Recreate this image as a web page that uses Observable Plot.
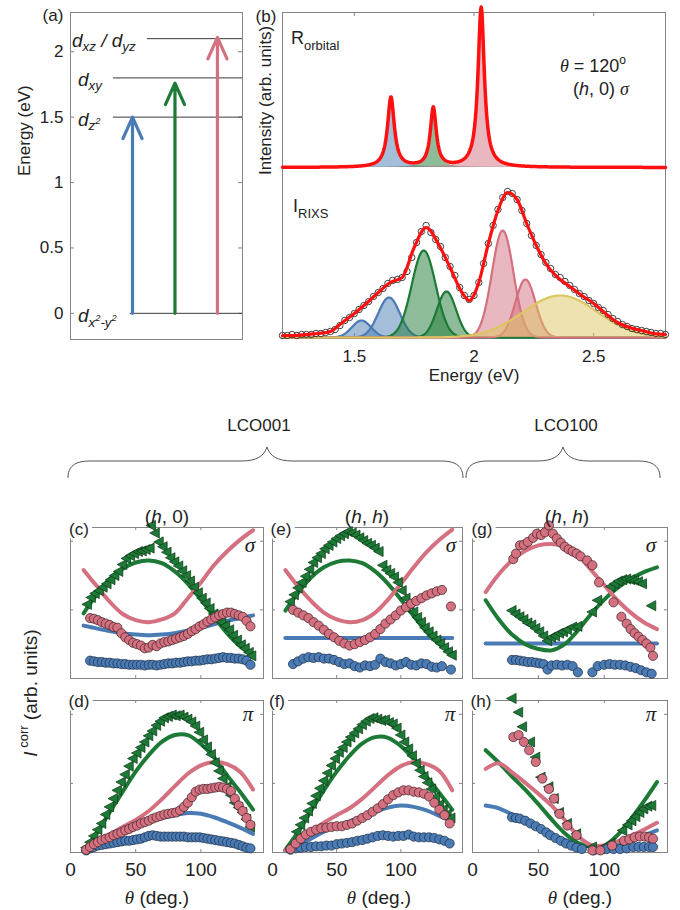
<!DOCTYPE html>
<html>
<head>
<meta charset="utf-8">
<script src="https://cdn.jsdelivr.net/npm/d3@7"></script>
<script src="https://cdn.jsdelivr.net/npm/@observablehq/plot@0.6"></script>
<style>
  body { margin: 0; background: #fff; }
  #fig { position: relative; width: 680px; height: 910px; overflow: hidden; background: #fff;
         font-family: "Liberation Sans", Arial, Helvetica, sans-serif; color: #222; }
  .lbl { position: absolute; white-space: nowrap; line-height: 1; transform: translate(-50%, -50%); }
  .lbl.left { transform: translate(0, -50%); }
  .tag { background: #fff; padding: 1px 3px; }
  .gr { font-family: "Liberation Serif", "DejaVu Serif", serif; font-style: italic; }
  .it { font-style: italic; }
  .lbl sub, .lbl sup { line-height: 0; font-size: 70%; }
</style>
</head>
<body>
<div id="fig"></div>
<script>
// ---------------- (a) crystal-field levels ----------------
const levelNames = ["d<sub>x<sup>2</sup>-y<sup>2</sup></sub>", "d<sub>z<sup>2</sup></sub>", "d<sub>xy</sub>", "d<sub>xz</sub> / d<sub>yz</sub>"];
const levelEnergy = [0, 1.5, 1.8, 2.1];
const transitionEnergy = [1.5, 1.76, 2.11];
const energyTicks = [0, 0.5, 1, 1.5, 2];

// ---------------- (b) spectra ----------------
// orbital response: peak centre (eV), height, half width
const orbitalCenter = [1.653, 1.83, 2.03];
const orbitalHeight = [0.70, 0.59, 1.60];
const orbitalWidth = [0.017, 0.015, 0.016];
// RIXS fit components: centre (eV), height, sigma
const compName = ["dz2 a", "dz2 b", "dxy a", "dxy b", "dxz a", "dxz b", "background"];
const compCenter = [1.53, 1.645, 1.79, 1.885, 2.12, 2.215, 2.36];
const compHeight = [0.17, 0.40, 0.87, 0.46, 1.07, 0.58, 0.42];
const compSigma = [0.040, 0.045, 0.050, 0.040, 0.045, 0.042, 0.155];
// measured RIXS spectrum
const spectrumE = [1.20,1.22,1.24,1.26,1.28,1.30,1.32,1.34,1.36,1.38,1.40,1.42,1.44,1.46,1.48,1.50,1.52,1.54,1.56,1.58,
  1.60,1.62,1.64,1.66,1.68,1.70,1.72,1.74,1.76,1.78,1.80,1.82,1.84,1.86,1.88,1.90,1.92,1.94,1.96,1.98,
  2.00,2.02,2.04,2.06,2.08,2.10,2.12,2.14,2.16,2.18,2.20,2.22,2.24,2.26,2.28,2.30,2.32,2.34,2.36,2.38,
  2.40,2.42,2.44,2.46,2.48,2.50,2.52,2.54,2.56,2.58,2.60,2.62,2.64,2.66,2.68,2.70,2.72,2.74,2.76,2.78,2.80];
const spectrumI = [0.02,0.02,0.03,0.02,0.03,0.03,0.03,0.04,0.04,0.05,0.06,0.08,0.12,0.17,0.20,0.24,0.28,0.32,0.36,0.41,
  0.45,0.49,0.54,0.57,0.58,0.60,0.66,0.80,0.95,1.06,1.12,1.05,0.98,0.91,0.80,0.71,0.62,0.50,0.42,0.38,
  0.42,0.55,0.74,0.94,1.12,1.28,1.40,1.46,1.44,1.38,1.27,1.14,1.02,0.92,0.83,0.75,0.69,0.63,0.60,0.56,
  0.52,0.48,0.44,0.41,0.37,0.34,0.30,0.27,0.23,0.19,0.16,0.13,0.11,0.09,0.08,0.07,0.06,0.05,0.04,0.04,0.03];
// total fit
const fitE = [1.20,1.25,1.30,1.35,1.40,1.45,1.50,1.55,1.60,1.65,1.70,1.75,1.80,1.85,1.90,1.95,1.98,
  2.02,2.06,2.10,2.14,2.18,2.22,2.26,2.30,2.35,2.40,2.45,2.50,2.55,2.60,2.65,2.70,2.75,2.80];
const fitI = [0.02,0.02,0.03,0.04,0.06,0.15,0.24,0.34,0.45,0.55,0.60,0.90,1.10,0.94,0.70,0.45,0.37,
  0.55,0.94,1.27,1.45,1.38,1.14,0.92,0.74,0.60,0.51,0.42,0.34,0.24,0.15,0.10,0.07,0.04,0.03];
const energyAxisTicks = [1.5, 2, 2.5];

// ---------------- (c)-(h) angular dependence ----------------
const modelTheta = [10,20,30,40,50,60,70,80,90,100,110,120,130,140];
const thetaTicks = [0, 50, 100];

// (c) LCO001 (h,0) sigma
const cLineGreen = [0.95,1.22,1.45,1.60,1.69,1.72,1.68,1.56,1.38,1.15,0.90,0.66,0.47,0.34];
const cLinePink  = [1.58,1.35,1.12,0.94,0.85,0.82,0.86,0.95,1.17,1.40,1.65,1.85,2.02,2.16];
const cLineBlue  = [0.77,0.73,0.69,0.66,0.64,0.63,0.64,0.66,0.70,0.74,0.79,0.84,0.88,0.92];
const cTheta = [15,18,21,24,27,30,33,36,39,42,45,48,51,54,57,60,63,66,69,72,75,78,81,84,87,90,93,96,99,102,105,108,111,114,117,120,123,126,129,132,135,138];
const cPink = [0.88,0.87,0.85,0.82,0.80,0.78,0.75,0.74,0.66,0.60,0.56,0.52,0.50,0.48,0.44,0.45,0.49,0.47,0.51,0.53,0.54,0.56,0.58,0.60,0.62,0.65,0.69,0.72,0.76,0.79,0.83,0.86,0.89,0.92,0.94,0.96,0.96,0.94,0.92,0.90,0.84,0.76];
const cBlue = [0.26,0.25,0.24,0.24,0.23,0.23,0.22,0.22,0.21,0.21,0.20,0.20,0.20,0.20,0.19,0.20,0.20,0.19,0.20,0.21,0.22,0.22,0.23,0.23,0.24,0.25,0.25,0.26,0.26,0.27,0.28,0.28,0.29,0.30,0.31,0.30,0.30,0.29,0.29,0.28,0.26,0.20];
const cGreenTheta = [13,16,19,22,25,28,31,34,37,40,43,46,49,52,55,58,61,62,65,68,71,74,77,80,83,86,89,92,95,98,101,104,107,110,113,116,119,122,125,128,131,134,137,139];
const cGreen = [1.08,1.18,1.24,1.28,1.33,1.38,1.44,1.50,1.56,1.66,1.75,1.79,1.82,1.85,1.86,1.88,1.90,2.23,2.12,1.99,1.92,1.84,1.76,1.70,1.64,1.57,1.50,1.42,1.33,1.25,1.17,1.10,1.02,0.94,0.88,0.82,0.77,0.71,0.63,0.56,0.49,0.44,0.38,0.33];

// (d) LCO001 (h,0) pi
const dLineGreen = [0.02,0.28,0.58,0.88,1.17,1.41,1.60,1.70,1.70,1.57,1.38,1.12,0.88,0.62];
const dLinePink  = [0.02,0.14,0.26,0.37,0.47,0.60,0.77,0.96,1.14,1.26,1.31,1.28,1.17,0.91];
const dLineBlue  = [0.02,0.12,0.22,0.31,0.38,0.45,0.50,0.54,0.57,0.56,0.51,0.44,0.36,0.27];
const dTheta = [12,15,18,21,24,27,30,33,36,39,42,45,48,51,54,57,60,63,66,69,72,75,78,81,84,87,90,93,96,99,102,105,108,111,114,117,120,123,126,129,132,135,138];
const dPink = [0.04,0.08,0.12,0.15,0.18,0.20,0.22,0.25,0.27,0.29,0.32,0.34,0.37,0.39,0.42,0.44,0.46,0.49,0.51,0.53,0.55,0.56,0.57,0.58,0.61,0.66,0.72,0.80,0.88,0.91,0.92,0.92,0.93,0.94,0.95,0.94,0.92,0.89,0.78,0.68,0.60,0.50,0.40];
const dBlue = [0.03,0.06,0.08,0.10,0.11,0.12,0.13,0.14,0.15,0.16,0.17,0.17,0.18,0.19,0.20,0.22,0.24,0.25,0.24,0.23,0.23,0.23,0.23,0.23,0.23,0.23,0.22,0.22,0.22,0.22,0.21,0.20,0.19,0.18,0.17,0.16,0.15,0.14,0.13,0.11,0.09,0.07,0.06];
const dGreen = [0.07,0.15,0.24,0.33,0.42,0.55,0.66,0.78,0.90,1.02,1.13,1.25,1.36,1.44,1.52,1.60,1.69,1.76,1.84,1.90,1.95,1.97,1.99,1.98,1.99,1.96,1.93,1.89,1.83,1.74,1.63,1.53,1.42,1.30,1.18,1.07,0.95,0.83,0.72,0.65,0.58,0.48,0.37];

// (e) LCO001 (h,h) sigma
const eLineGreen = [0.99,1.25,1.47,1.62,1.70,1.72,1.68,1.56,1.38,1.15,0.91,0.68,0.50,0.38];
const eLinePink  = [1.58,1.34,1.13,0.96,0.86,0.82,0.85,0.96,1.15,1.38,1.62,1.84,2.02,2.17];
const eLineBlue  = [0.59,0.59,0.59,0.59,0.59,0.59,0.59,0.59,0.59,0.59,0.59,0.59,0.59,0.59];
const eTheta = [16,20,24,28,32,36,40,44,48,52,56,60,64,68,72,76,80,84,88,92,96,100,104,108,112,116,120,124,128,132,139];
const ePink = [1.00,0.96,0.92,0.88,0.82,0.77,0.71,0.65,0.60,0.55,0.51,0.48,0.50,0.53,0.56,0.60,0.65,0.72,0.80,0.86,0.92,0.99,1.04,1.09,1.13,1.17,1.21,1.24,1.27,1.29,1.05];
const eBlue = [0.21,0.25,0.29,0.31,0.30,0.31,0.29,0.29,0.27,0.24,0.21,0.22,0.18,0.16,0.19,0.18,0.20,0.29,0.24,0.22,0.19,0.21,0.24,0.20,0.19,0.22,0.21,0.17,0.16,0.18,0.13];
const eGreenTheta = [14,17,20,23,26,29,32,35,38,41,44,47,50,53,56,59,62,65,68,71,74,77,80,83,86,89,92,95,98,101,104,107,110,113,116,119,122,125,128,131,134,137,140];
const eGreen = [1.12,1.22,1.32,1.40,1.49,1.59,1.69,1.76,1.82,1.89,1.94,1.99,2.04,2.08,2.11,2.14,2.12,2.09,2.05,2.01,1.97,1.94,1.90,1.85,1.65,1.58,1.53,1.48,1.40,1.28,1.17,1.07,0.97,0.89,0.82,0.74,0.68,0.62,0.56,0.51,0.45,0.39,0.34];

// (f) LCO001 (h,h) pi
const fLineGreen = [0.04,0.30,0.60,0.90,1.17,1.40,1.58,1.67,1.66,1.54,1.35,1.10,0.86,0.62];
const fLinePink  = [0.03,0.16,0.30,0.43,0.54,0.64,0.78,0.95,1.12,1.25,1.31,1.28,1.18,0.90];
const fLineBlue  = [0.02,0.10,0.20,0.30,0.38,0.45,0.52,0.59,0.65,0.68,0.66,0.61,0.53,0.45];
const fTheta = [14,18,22,26,30,34,38,42,46,50,54,58,62,66,70,74,78,82,86,90,94,98,102,106,110,114,118,122,126,130,134,138];
const fPink = [0.05,0.13,0.20,0.26,0.30,0.33,0.35,0.36,0.37,0.38,0.38,0.40,0.42,0.46,0.50,0.54,0.59,0.64,0.70,0.77,0.83,0.87,0.90,0.90,0.88,0.87,0.85,0.81,0.72,0.62,0.54,0.42];
const fBlue = [0.04,0.06,0.07,0.08,0.08,0.09,0.09,0.10,0.10,0.12,0.13,0.14,0.15,0.17,0.18,0.20,0.22,0.24,0.25,0.24,0.23,0.24,0.24,0.26,0.23,0.22,0.22,0.22,0.21,0.19,0.17,0.13];
const fGreenTheta = [19,22,25,28,31,34,37,40,43,46,49,52,55,58,61,64,67,70,73,76,79,82,85,88,91,94,97,100,103,106,109,112,115,118,121,124,127,130,133,136,139];
const fGreen = [0.30,0.40,0.50,0.60,0.71,0.82,0.93,1.04,1.15,1.26,1.36,1.45,1.52,1.60,1.67,1.73,1.79,1.85,1.90,1.94,1.95,1.93,1.91,1.92,1.88,1.86,1.80,1.70,1.60,1.50,1.40,1.29,1.19,1.10,1.01,0.92,0.80,0.69,0.62,0.55,0.50];

// (g) LCO100 (h,h) sigma
const gLineGreen = [1.14,0.86,0.64,0.50,0.43,0.41,0.50,0.70,0.94,1.15,1.32,1.45,1.55,1.62];
const gLinePink  = [1.26,1.52,1.72,1.86,1.94,1.96,1.92,1.80,1.58,1.36,1.14,0.96,0.82,0.72];
const gLineBlue  = [0.51,0.51,0.51,0.51,0.51,0.51,0.51,0.51,0.51,0.51,0.51,0.51,0.51,0.51];
const gPinkTheta = [31,33,36,39,42,46,49,52,55,58,61,64,67,70,73,76,79,82,87,91,96,107,113,117,120,123,126,129,132,135,137];
const gPink = [1.74,1.82,1.94,1.95,1.99,2.05,2.11,2.09,2.13,2.23,2.11,2.04,1.98,1.92,1.88,1.85,1.82,1.78,1.72,1.65,1.40,1.11,0.90,0.80,0.72,0.66,0.61,0.56,0.51,0.45,0.33];
const gBlueTheta = [30,33,36,39,42,45,48,51,54,57,60,64,68,72,76,80,91,95,100,104,108,112,116,120,124,128,132,136];
const gBlue = [0.27,0.27,0.26,0.25,0.24,0.24,0.23,0.22,0.21,0.13,0.19,0.20,0.19,0.20,0.18,0.09,0.09,0.18,0.20,0.21,0.20,0.20,0.19,0.17,0.15,0.12,0.09,0.07];
const gGreenTheta = [30,33,36,39,42,45,48,51,54,57,60,63,66,69,72,76,80,91,95,105,108,111,114,117,120,123,126,129,136];
const gGreen = [0.99,0.94,0.90,0.86,0.81,0.78,0.73,0.68,0.62,0.55,0.60,0.62,0.66,0.68,0.71,0.75,0.76,0.97,1.14,1.34,1.38,1.42,1.44,1.45,1.44,1.43,1.41,1.38,1.06];

// (h) LCO100 (h,h) pi
const hLineGreen = [1.48,1.30,1.10,0.91,0.70,0.48,0.28,0.14,0.08,0.10,0.25,0.48,0.74,1.02];
const hLinePink  = [1.21,1.29,1.16,1.01,0.85,0.68,0.47,0.24,0.11,0.10,0.16,0.24,0.33,0.43];
const hLineBlue  = [0.68,0.64,0.55,0.45,0.35,0.26,0.18,0.12,0.09,0.08,0.12,0.18,0.25,0.32];
const hPinkTheta = [31,35,39,43,48,53,58,62,66,72,79,91,97,106,115,119,123,127,131,134,137];
const hPink = [1.67,1.70,1.60,1.48,1.31,1.07,0.92,0.78,0.56,0.39,0.25,0.03,0.03,0.10,0.17,0.19,0.22,0.23,0.23,0.22,0.20];
const hBlueTheta = [30,33,36,40,44,48,52,56,59,63,67,71,75,79,83,92,102,107,112,117,122,126,130,134,137];
const hBlue = [0.51,0.50,0.49,0.46,0.42,0.38,0.34,0.29,0.25,0.21,0.17,0.13,0.10,0.07,0.05,0.03,0.05,0.05,0.05,0.06,0.08,0.08,0.08,0.08,0.08];
const hGreenTheta = [30,35,38,44,48,52,58,62,66,72,79,91,97,105,114,118,121,124,127,130,133,136];
const hGreen = [2.23,2.03,1.82,1.60,1.38,1.09,0.95,0.78,0.58,0.42,0.27,0.08,0.05,0.13,0.32,0.40,0.46,0.52,0.58,0.63,0.67,0.68];

// ---------------- drawing ----------------
const AXIS = "#858585";
const BLUE = "#4a7bb4", GREEN = "#1d7a36", PINK = "#d4707f", YELLOW = "#dcc562", RED = "#ff1010";
const FONT = '"Liberation Sans", Arial, Helvetica, sans-serif';
const fig = document.getElementById("fig");

function put(node, left, top) {
  node.style.position = "absolute";
  node.style.left = left + "px";
  node.style.top = top + "px";
  node.style.overflow = "visible";
  node.style.background = "none";
  fig.appendChild(node);
  return node;
}
function label(html, x, y, size, cls = "", rotate = 0) {
  const d = document.createElement("div");
  d.className = "lbl " + cls;
  d.innerHTML = html;
  d.style.left = x + "px";
  d.style.top = y + "px";
  d.style.fontSize = size + "px";
  if (rotate) d.style.transform = `translate(-50%, -50%) rotate(${rotate}deg)`;
  fig.appendChild(d);
  return d;
}
const baseStyle = (size) => ({background: "none", overflow: "visible", fontFamily: FONT, fontSize: size + "px", color: "#222"});

// inward tick marks on all four sides of a frame
function xTicksIn(values, innerH, len = 4) {
  return [
    Plot.ruleX(values, {x: d => d, insetTop: innerH - len, stroke: AXIS}),
    Plot.ruleX(values, {x: d => d, insetBottom: innerH - len, stroke: AXIS})
  ];
}
function yTicksIn(values, innerW, len = 4) {
  return [
    Plot.ruleY(values, {y: d => d, insetRight: innerW - len, stroke: AXIS}),
    Plot.ruleY(values, {y: d => d, insetLeft: innerW - len, stroke: AXIS})
  ];
}

// ---- (a)
const aInnerW = 172, aInnerH = 327;
const transColor = [BLUE, GREEN, PINK];
const levelStart = [0.95, 0.55, 0.55, 1.35]; // left end of each level line (column units)
const chartA = Plot.plot({
  width: 250, height: 360, marginLeft: 70, marginRight: 8, marginTop: 12, marginBottom: 21,
  x: {domain: [-0.46, 3.59], axis: null},
  y: {domain: [-0.2, 2.3], axis: null},
  style: baseStyle(17),
  marks: [
    Plot.frame({stroke: AXIS}),
    ...yTicksIn(energyTicks, aInnerW),
    Plot.axisY({ticks: energyTicks, tickSize: 0, tickPadding: 7, tickFormat: d => String(d), label: null}),
    Plot.ruleY(levelEnergy.map((e, i) => ({e, x1: levelStart[i]})), {y: "e", x1: "x1", x2: 3.59, stroke: "#3a3a3a", strokeWidth: 1}),
    ...transitionEnergy.map((e, i) =>
      Plot.arrow([{k: i + 1, e}], {x: "k", y1: 0, y2: "e", stroke: transColor[i], strokeWidth: 3.2, headLength: 11, headAngle: 48})),
    Plot.text(["Energy (eV)"], {text: d => d, frameAnchor: "left", dx: -46, rotate: -90, fontSize: 17})
  ]
});
put(chartA, 0, 0);
const yA = chartA.scale("y");
const levelLeft = [78, 78, 78, 72];
levelNames.forEach((n, i) => {
  label(`<span class="it">${n}</span>`, levelLeft[i], yA.apply(levelEnergy[i]) + 2, 19, "left");
});
label("(a)", 53, 15, 17);

// ---- (b)
const ROFF = 1.70;
const eGrid = d3.range(1200, 2801, 2).map(v => v / 1000);
const lor = (i, E) => orbitalHeight[i] * orbitalWidth[i] ** 2 / ((E - orbitalCenter[i]) ** 2 + orbitalWidth[i] ** 2);
const gau = (i, E) => compHeight[i] * Math.exp(-((E - compCenter[i]) ** 2) / (2 * compSigma[i] ** 2));
const orbitalColor = [BLUE, GREEN, PINK];
const compColor = [BLUE, BLUE, GREEN, GREEN, PINK, PINK, YELLOW];
const bInnerH = 325;
const chartB = Plot.plot({
  width: 430, height: 400, marginLeft: 32, marginRight: 15, marginTop: 12, marginBottom: 63,
  x: {domain: [1.2, 2.8], axis: null},
  y: {domain: [0, 3.25], axis: null},
  style: baseStyle(17),
  marks: [
    Plot.frame({stroke: AXIS}),
    ...xTicksIn(energyAxisTicks, bInnerH),
    // orbital response
    ...orbitalCenter.map((c, i) => Plot.areaY(eGrid, {x: d => d, y1: ROFF, y2: d => ROFF + lor(i, d), fill: orbitalColor[i], fillOpacity: 0.5})),
    Plot.lineY(eGrid, {x: d => d, y: d => ROFF + lor(0, d) + lor(1, d) + lor(2, d), stroke: RED, strokeWidth: 3.5}),
    // RIXS components
    ...compCenter.flatMap((c, i) => [
      Plot.areaY(eGrid, {x: d => d, y1: 0, y2: d => gau(i, d), fill: compColor[i], fillOpacity: 0.5}),
      Plot.lineY(eGrid, {x: d => d, y: d => gau(i, d), stroke: compColor[i], strokeWidth: 2.2})
    ]),
    Plot.dot(spectrumE.map((e, i) => ({e, v: spectrumI[i]})), {x: "e", y: "v", r: 3.2, fill: "none", stroke: "#2a2a2a", strokeWidth: 0.9}),
    Plot.line(fitE.map((e, i) => ({e, v: fitI[i]})), {x: "e", y: "v", curve: "monotone-x", stroke: RED, strokeWidth: 3.2}),
    Plot.axisX({ticks: energyAxisTicks, tickSize: 0, tickPadding: 12, tickFormat: d => String(d), label: null}),
    Plot.text(["Energy (eV)"], {text: d => d, frameAnchor: "bottom", dy: 43, fontSize: 17}),
    Plot.text(["Intensity (arb. units)"], {text: d => d, frameAnchor: "left", dx: -17, rotate: -90, fontSize: 17})
  ]
});
put(chartB, 250, 0);
label("(b)", 266, 16, 17);
label('R<sub style="font-size:13px;vertical-align:-6px">orbital</sub>', 291, 38, 18, "left");
label('<span class="gr">θ</span> = 120<sup style="font-size:12px;vertical-align:8px">o</sup>', 593, 66, 18);
label('(<span class="it">h</span>, 0) <span class="gr">σ</span>', 601, 89, 18);
label('I<sub style="font-size:13px;vertical-align:-6px">RIXS</sub>', 293, 206, 18, "left");

// ---- braces grouping the two samples
const braceSvg = d3.create("svg").attr("width", 680).attr("height", 60);
function bracePath(x0, x1, tip, yEnd, yMid, yTip) {
  return `M${x0},${yEnd} C${x0},${yMid + 6} ${x0 + 6},${yMid} ${x0 + 22},${yMid} L${tip - 26},${yMid}
          C${tip - 10},${yMid} ${tip - 3},${yMid - 5} ${tip},${yTip} C${tip + 3},${yMid - 5} ${tip + 10},${yMid} ${tip + 26},${yMid}
          L${x1 - 22},${yMid} C${x1 - 6},${yMid} ${x1},${yMid + 6} ${x1},${yEnd}`;
}
braceSvg.append("path").attr("d", bracePath(68, 463, 267, 38, 21, 7)).attr("fill", "none").attr("stroke", "#555").attr("stroke-width", 1);
braceSvg.append("path").attr("d", bracePath(466, 660, 563, 38, 21, 7)).attr("fill", "none").attr("stroke", "#555").attr("stroke-width", 1);
put(braceSvg.node(), 0, 440);
label("LCO001", 259, 425, 17);
label("LCO100", 566, 425, 17);

// ---- (c)-(h)
const triLeft = {
  draw(ctx, size) {
    const r = Math.sqrt(size / Math.PI);
    ctx.moveTo(-r * 1.15, 0);
    ctx.lineTo(r * 0.85, -r * 1.05);
    ctx.lineTo(r * 0.85, r * 1.05);
    ctx.closePath();
  }
};
const pts = (theta, vals) => theta.map((t, i) => ({t, v: vals[i]}));

function thetaPanel(p) {
  const pad = 8;
  const top = p.row === 0 ? 505 : 690;
  const mt = p.row === 0 ? 22 : 10;
  const innerH = p.row === 0 ? 151 : 152;
  const mb = p.row === 0 ? 12 : 58;
  const innerW = p.right - p.left;
  const line = (vals, color) => Plot.line(pts(modelTheta, vals), {x: "t", y: "v", stroke: color, strokeWidth: 4, curve: "catmull-rom"});
  const chart = Plot.plot({
    width: innerW + 2 * pad, height: mt + innerH + mb,
    marginLeft: pad, marginRight: pad, marginTop: mt, marginBottom: mb,
    x: {domain: [0, 148], axis: null},
    y: {domain: [0, 2.2], axis: null},
    style: baseStyle(19),
    marks: [
      Plot.frame({stroke: AXIS}),
      ...xTicksIn([50, 100], innerH, 3),
      ...yTicksIn([1, 2], innerW, 3),
      line(p.lineBlue, BLUE),
      line(p.lineGreen, GREEN),
      line(p.linePink, PINK),
      Plot.dot(pts(p.greenTheta, p.green), {x: "t", y: "v", r: 4.8, symbol: triLeft, fill: GREEN, stroke: "#0c3516", strokeWidth: 0.7}),
      Plot.dot(pts(p.blueTheta, p.blue), {x: "t", y: "v", r: 4.6, fill: BLUE, stroke: "#1c2c42", strokeWidth: 0.7}),
      Plot.dot(pts(p.pinkTheta, p.pink), {x: "t", y: "v", r: 4.6, fill: PINK, stroke: "#3b2326", strokeWidth: 0.7}),
      p.row === 1 ? Plot.axisX({ticks: thetaTicks, tickSize: 0, tickPadding: 10, tickFormat: d => String(d), label: null}) : null
    ]
  });
  put(chart, p.left - pad, top);
}

const cols = [[70, 263], [272, 462], [472, 667]];
const panels = [
  {row: 0, col: 0, lineGreen: cLineGreen, linePink: cLinePink, lineBlue: cLineBlue, greenTheta: cGreenTheta, green: cGreen, pinkTheta: cTheta, pink: cPink, blueTheta: cTheta, blue: cBlue},
  {row: 1, col: 0, lineGreen: dLineGreen, linePink: dLinePink, lineBlue: dLineBlue, greenTheta: dTheta, green: dGreen, pinkTheta: dTheta, pink: dPink, blueTheta: dTheta, blue: dBlue},
  {row: 0, col: 1, lineGreen: eLineGreen, linePink: eLinePink, lineBlue: eLineBlue, greenTheta: eGreenTheta, green: eGreen, pinkTheta: eTheta, pink: ePink, blueTheta: eTheta, blue: eBlue},
  {row: 1, col: 1, lineGreen: fLineGreen, linePink: fLinePink, lineBlue: fLineBlue, greenTheta: fGreenTheta, green: fGreen, pinkTheta: fTheta, pink: fPink, blueTheta: fTheta, blue: fBlue},
  {row: 0, col: 2, lineGreen: gLineGreen, linePink: gLinePink, lineBlue: gLineBlue, greenTheta: gGreenTheta, green: gGreen, pinkTheta: gPinkTheta, pink: gPink, blueTheta: gBlueTheta, blue: gBlue},
  {row: 1, col: 2, lineGreen: hLineGreen, linePink: hLinePink, lineBlue: hLineBlue, greenTheta: hGreenTheta, green: hGreen, pinkTheta: hPinkTheta, pink: hPink, blueTheta: hBlueTheta, blue: hBlue}
];
panels.forEach(p => thetaPanel({...p, left: cols[p.col][0], right: cols[p.col][1]}));

// panel tags, column headers, polarisation labels
const tags = [["(c)", 79, 529], ["(e)", 281, 529], ["(g)", 482, 529], ["(d)", 79, 701], ["(f)", 277, 701], ["(h)", 481, 701]];
tags.forEach(([t, x, y]) => label(t, x, y, 17, "tag"));
label('(<span class="it">h</span>, 0)', 167, 516, 19);
label('(<span class="it">h</span>, <span class="it">h</span>)', 367, 516, 19);
label('(<span class="it">h</span>, <span class="it">h</span>)', 567, 516, 19);
[250, 451, 651].forEach(x => label('<span class="gr">σ</span>', x, 545, 21));
[248, 450, 651].forEach(x => label('<span class="gr">π</span>', x, 714, 21));
[157, 379, 580].forEach(x => label('<span class="gr">θ</span> (deg.)', x, 897, 19));
label('<span class="it">I</span><sup style="font-size:13px;vertical-align:9px"> corr</sup> (arb. units)', 30, 693, 19, "", -90);
</script>
</body>
</html>
